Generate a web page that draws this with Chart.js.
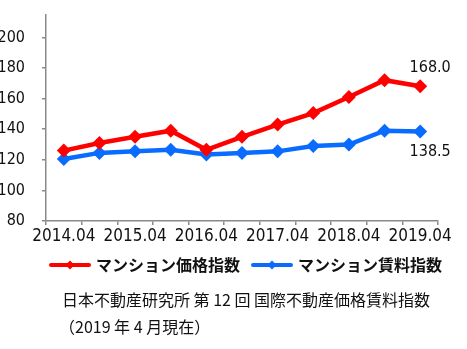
<!DOCTYPE html>
<html><head><meta charset="utf-8">
<script src="https://cdn.jsdelivr.net/npm/chart.js@4/dist/chart.umd.min.js"></script>
<style>
html,body{margin:0;padding:0;background:#fff;}
#wrap{position:relative;width:467px;height:349px;overflow:hidden;}
#c{position:absolute;left:0;top:0;}
.note{position:absolute;left:62px;font:16px 'Noto Sans CJK JP',sans-serif;color:#111;white-space:nowrap;line-height:23px;}
</style></head><body>
<div id="wrap">
<canvas id="c" width="467" height="349"></canvas>
<div class="note" style="top:288px">日本不動産研究所 第 12 回 国際不動産価格賃料指数</div>
<div class="note" style="top:315px;left:59px">（2019 年 4 月現在）</div>
</div>
<script>
const periods = ['2014.04','2014.10','2015.04','2015.10','2016.04','2016.10','2017.04','2017.10','2018.04','2018.10','2019.04'];
const priceIdx = [126, 131, 135, 139, 126.5, 135, 143, 150.5, 161, 172, 168.0];
const rentIdx  = [120.5, 124.5, 125.5, 126.5, 123.5, 124.5, 125.5, 129, 130, 139, 138.5];
const yMin = 80, yMax = 214.6, yStep = 20, yTop = 200;
const RED = '#ff0000', BLUE = '#0a6cff', AXIS = '#8a8a8a';
const NUM_FONT = "'Liberation Sans Narrow','DejaVu Sans Condensed',sans-serif";

function legendMark(color){
  const c=document.createElement('canvas'); c.width=42; c.height=12;
  const g=c.getContext('2d');
  g.strokeStyle=color; g.lineWidth=4; g.lineCap='round';
  g.beginPath(); g.moveTo(2,6); g.lineTo(40,6); g.stroke();
  g.fillStyle=color; g.beginPath();
  g.moveTo(21,1.5); g.lineTo(25.5,6); g.lineTo(21,10.5); g.lineTo(16.5,6); g.closePath(); g.fill();
  return c;
}

// last value labels next to the final points
const endLabels = {
  id:'endLabels',
  afterDatasetsDraw(chart){
    const ctx=chart.ctx;
    ctx.save();
    ctx.font='16px '+NUM_FONT; ctx.fillStyle='#111';
    ctx.textAlign='center'; ctx.textBaseline='middle';
    chart.data.datasets.forEach((ds,i)=>{
      const pts=chart.getDatasetMeta(i).data, p=pts[pts.length-1];
      const v=ds.data[ds.data.length-1];
      ctx.fillText(v.toFixed(1), p.x+10, p.y+(i===0?-18:20));
    });
    ctx.restore();
  }
};

// legend sits a bit right of centre in the original
const legendShift = {
  id:'legendShift',
  afterLayout(chart){ chart.legend.left += 27; }
};

const ds = (label, data, color) => ({
  label, data, borderColor:color, backgroundColor:color, borderWidth:4.5,
  pointStyle:'rectRot', pointRadius:7, pointBorderWidth:0, pointBackgroundColor:color,
  tension:0, fill:false, legendMark:legendMark(color)
});

new Chart(document.getElementById('c'), {
  type:'line',
  data:{labels:periods, datasets:[
    ds('マンション価格指数', priceIdx, RED),
    ds('マンション賃料指数', rentIdx, BLUE)
  ]},
  options:{
    responsive:false, animation:false,
    layout:{padding:{left:0, right:0, top:15, bottom:66}},
    plugins:{
      tooltip:{enabled:false},
      legend:{position:'bottom',
        labels:{usePointStyle:true, pointStyleWidth:36, padding:14, color:'#111',
          font:{family:"'Noto Sans CJK JP'", size:16, weight:'bold'},
          generateLabels(chart){
            return chart.data.datasets.map((d,i)=>({text:d.label, pointStyle:d.legendMark, datasetIndex:i,
              fillStyle:d.borderColor, strokeStyle:d.borderColor, lineWidth:0, hidden:false, fontColor:'#111'}));
          }}}
    },
    scales:{
      x:{offset:true,
        grid:{offset:true, drawOnChartArea:false, tickLength:4, color:AXIS, lineWidth:1.5},
        border:{color:AXIS, width:1.5},
        ticks:{autoSkip:false, maxRotation:0, padding:1, color:'#111', font:{family:NUM_FONT, size:17},
          callback(v,i){ return i%2===0 ? periods[i] : ''; }},
        afterFit(s){ s.height=22; s.paddingLeft=0; s.paddingRight=0; }
      },
      y:{min:yMin, max:yMax,
        grid:{drawOnChartArea:false, tickLength:4, lineWidth:1.5,
          color:c=>c.tick && c.tick.value>yTop ? 'rgba(0,0,0,0)' : AXIS},
        border:{color:AXIS, width:1.5},
        ticks:{stepSize:yStep, padding:17, color:'#111', font:{family:NUM_FONT, size:16},
          callback:v=>v>yTop ? '' : v},
        afterFit(s){ s.width=46; s.paddingTop=0; s.paddingBottom=0; }
      },
      y2:{position:'right', display:true, grid:{display:false}, border:{display:false},
        ticks:{display:false}, afterFit(s){ s.width=29; s.paddingTop=0; s.paddingBottom=0; }}
    }
  },
  plugins:[endLabels, legendShift]
});
</script>
</body></html>
